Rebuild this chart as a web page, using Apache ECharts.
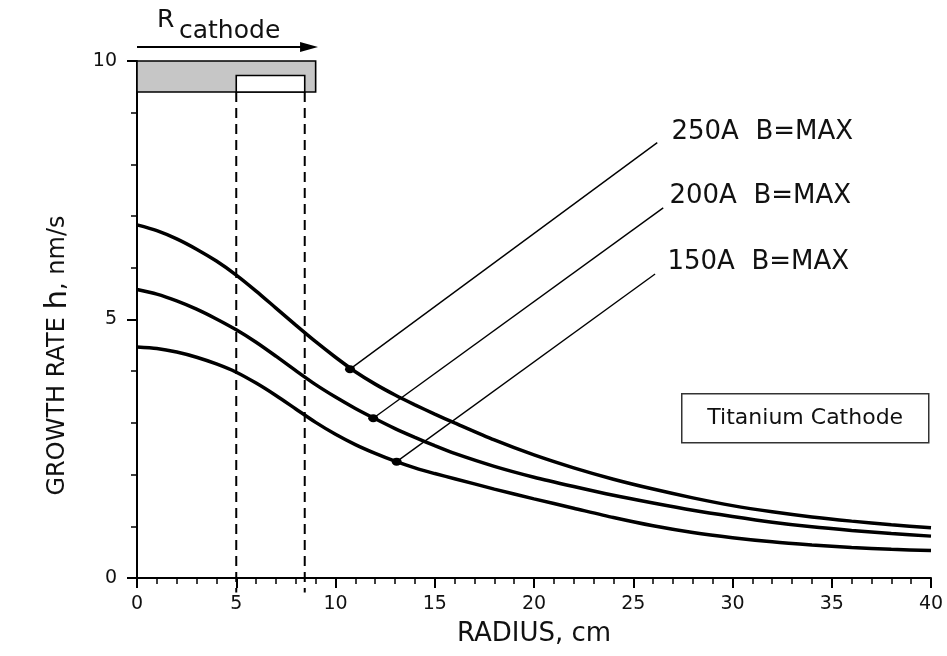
<!DOCTYPE html>
<html>
<head>
<meta charset="utf-8">
<script src="https://cdn.jsdelivr.net/npm/echarts@6/dist/echarts.min.js"></script>
<style>
  html, body { margin: 0; padding: 0; background: #fff; }
  #chart { width: 947px; height: 656px; }
</style>
</head>
<body>
<div id="chart"></div>
<script>
// Radius grid (cm) and growth rate h (nm/s) for three arc currents, B = MAX
const radius  = [0, 1, 2, 3, 4, 5, 6, 7, 8, 9, 10, 11, 12, 13, 14, 15, 16, 18, 20, 22, 24, 26, 28, 30, 32, 34, 36, 38, 40];
const rate250 = [6.83, 6.72, 6.56, 6.36, 6.13, 5.86, 5.55, 5.22, 4.89, 4.57, 4.27, 3.99, 3.75, 3.54, 3.35, 3.17, 3.00, 2.67, 2.38, 2.13, 1.91, 1.72, 1.55, 1.40, 1.28, 1.18, 1.10, 1.03, 0.97];
const rate200 = [5.58, 5.49, 5.36, 5.20, 5.01, 4.80, 4.56, 4.29, 4.01, 3.74, 3.50, 3.28, 3.08, 2.89, 2.72, 2.56, 2.41, 2.16, 1.95, 1.77, 1.60, 1.45, 1.31, 1.19, 1.08, 0.99, 0.92, 0.86, 0.81];
const rate150 = [4.47, 4.44, 4.37, 4.27, 4.14, 3.98, 3.77, 3.53, 3.27, 3.01, 2.78, 2.58, 2.41, 2.26, 2.13, 2.02, 1.92, 1.72, 1.53, 1.35, 1.17, 1.01, 0.88, 0.78, 0.70, 0.64, 0.59, 0.555, 0.53];

// Curve tags: marker on each curve, leader end, label anchor
const tagNames   = ['250A  B=MAX', '200A  B=MAX', '150A  B=MAX'];
const markerX    = [10.73, 11.90, 13.08];
const markerY    = [4.04, 3.09, 2.25];
const leaderEndX = [26.21, 26.51, 26.10];
const leaderEndY = [8.42, 7.16, 5.88];
const tagX       = [26.95, 26.85, 26.75];
const tagY       = [8.61, 7.37, 6.09];

// Cathode sketch: cathode body [x0, y0, x1, y1], inner target, dashed edges, radius arrow
const cathodeBody  = [0, 9.4, 9, 10];
const cathodeInner = [5, 9.4, 8.45, 9.72];
const edgeX        = [5, 8.45];
const edgeY        = [9.4, -0.28];
const arrowSpan    = [0, 9.12, 10.27];   // x start, x end, y

// Axis ticks
const xTicks = { min: 0, max: 40, step: 5 };
const yTicks = { min: 0, max: 10, step: 5 };

const FONT = 'DejaVu Sans';
const INK = '#111';
const curves = [rate250, rate200, rate150];

const chart = echarts.init(document.getElementById('chart'));

const boxSeries = (vals, fill, z) => ({
  type: 'custom',
  coordinateSystem: 'cartesian2d',
  clip: false,
  z: z,
  data: [vals],
  encode: { x: [0, 2], y: [1, 3] },
  renderItem: (params, api) => {
    const p0 = api.coord([api.value(0), api.value(1)]);
    const p1 = api.coord([api.value(2), api.value(3)]);
    return {
      type: 'rect',
      shape: { x: p0[0], y: p1[1], width: p1[0] - p0[0], height: p0[1] - p1[1] },
      style: { fill: fill, stroke: '#000', lineWidth: 1.6 }
    };
  }
});

const tickLabel = (margin) => ({
  color: INK,
  margin: margin,
  fontFamily: FONT,
  fontSize: 19,
  formatter: '{t|{value}}',
  rich: { t: { fontFamily: FONT, fontSize: 19, color: INK } }
});

const option = {
  animation: false,
  backgroundColor: '#fff',
  textStyle: { fontFamily: FONT },
  grid: { left: 137, right: 16, top: 61, bottom: 78, outerBoundsMode: 'none' },
  xAxis: {
    type: 'value',
    min: xTicks.min, max: xTicks.max, interval: xTicks.step,
    name: 'RADIUS, cm',
    nameLocation: 'middle',
    nameGap: 43,
    nameTextStyle: { fontFamily: FONT, fontSize: 26, color: INK },
    axisLine: { lineStyle: { color: '#000', width: 2 } },
    axisTick: { length: 10, lineStyle: { color: '#000', width: 2 } },
    minorTick: { show: true, splitNumber: 5, length: 6, lineStyle: { color: '#000', width: 1.5 } },
    splitLine: { show: false },
    axisLabel: tickLabel(17)
  },
  yAxis: {
    type: 'value',
    min: yTicks.min, max: yTicks.max, interval: yTicks.step,
    name: '{a|GROWTH RATE}  {h|h}{a|, nm/s}',
    nameLocation: 'middle',
    nameGap: 64,
    nameRotate: 90,
    nameTextStyle: {
      color: INK,
      padding: [0, 72, 0, 0],
      rich: {
        a: { fontFamily: FONT, fontSize: 24, color: INK },
        h: { fontFamily: FONT, fontSize: 31, color: INK }
      }
    },
    axisLine: { lineStyle: { color: '#000', width: 2 } },
    axisTick: { length: 10, lineStyle: { color: '#000', width: 2 } },
    minorTick: { show: true, splitNumber: 5, length: 6, lineStyle: { color: '#000', width: 1.5 } },
    splitLine: { show: false },
    axisLabel: tickLabel(20)
  },
  graphic: [
    {
      type: 'text', left: 157, top: 8, z: 10,
      style: { text: 'R', font: '25px "DejaVu Sans"', fill: INK }
    },
    {
      type: 'text', left: 179, top: 19, z: 10,
      style: { text: 'cathode', font: '25px "DejaVu Sans"', fill: INK }
    },
    {
      type: 'group', left: 681, top: 393, z: 10,
      children: [
        { type: 'rect', shape: { x: 0, y: 0, width: 247, height: 49 },
          style: { fill: '#fff', stroke: '#333', lineWidth: 1.5 } },
        { type: 'text', x: 123.5, y: 25,
          style: { text: 'Titanium Cathode', font: '22px "DejaVu Sans"', fill: INK,
                   align: 'center', verticalAlign: 'middle' } }
      ]
    }
  ],
  series: [
    ...curves.map((vals, k) => ({
      name: tagNames[k],
      type: 'line',
      data: radius.map((r, i) => [r, vals[i]]),
      showSymbol: false,
      smooth: 0.25,
      lineStyle: { color: '#000', width: 3.5 },
      z: 5
    })),
    {
      type: 'lines',
      coordinateSystem: 'cartesian2d',
      data: markerX.map((x, i) => ({ coords: [[x, markerY[i]], [leaderEndX[i], leaderEndY[i]]] })),
      lineStyle: { color: '#000', width: 1.4, opacity: 1 },
      z: 4
    },
    {
      type: 'scatter',
      data: markerX.map((x, i) => [x, markerY[i]]),
      symbol: 'circle',
      symbolSize: [10, 8],
      itemStyle: { color: '#000', opacity: 1 },
      z: 6
    },
    {
      type: 'scatter',
      data: tagX.map((x, i) => ({ value: [x, tagY[i]], name: tagNames[i] })),
      symbolSize: 1,
      itemStyle: { color: '#fff', opacity: 1 },
      label: {
        show: true,
        position: [0, 0],
        align: 'left',
        verticalAlign: 'middle',
        formatter: p => p.name,
        fontFamily: FONT,
        fontSize: 26,
        color: INK,
        opacity: 1
      },
      z: 6
    },
    boxSeries(cathodeBody, '#c6c6c6', 3),
    boxSeries(cathodeInner, '#fff', 4),
    {
      type: 'custom',
      coordinateSystem: 'cartesian2d',
      clip: false,
      z: 3,
      data: edgeX.map(x => [x, edgeY[0], edgeY[1]]),
      encode: { x: 0, y: [1, 2] },
      renderItem: (params, api) => {
        const a = api.coord([api.value(0), api.value(1)]);
        const b = api.coord([api.value(0), api.value(2)]);
        return {
          type: 'line',
          shape: { x1: a[0], y1: a[1], x2: b[0], y2: b[1] },
          style: { stroke: '#000', lineWidth: 2, lineDash: [10, 6] }
        };
      }
    },
    {
      type: 'custom',
      coordinateSystem: 'cartesian2d',
      clip: false,
      z: 3,
      data: [arrowSpan],
      encode: { x: [0, 1], y: 2 },
      renderItem: (params, api) => {
        const a = api.coord([api.value(0), api.value(2)]);
        const b = api.coord([api.value(1), api.value(2)]);
        return {
          type: 'group',
          children: [
            { type: 'line', shape: { x1: a[0], y1: a[1], x2: b[0] - 14, y2: b[1] },
              style: { stroke: '#000', lineWidth: 2 } },
            { type: 'polygon',
              shape: { points: [[b[0], b[1]], [b[0] - 18, b[1] - 5], [b[0] - 18, b[1] + 5]] },
              style: { fill: '#000' } }
          ]
        };
      }
    }
  ]
};

chart.setOption(option);
</script>
</body>
</html>
